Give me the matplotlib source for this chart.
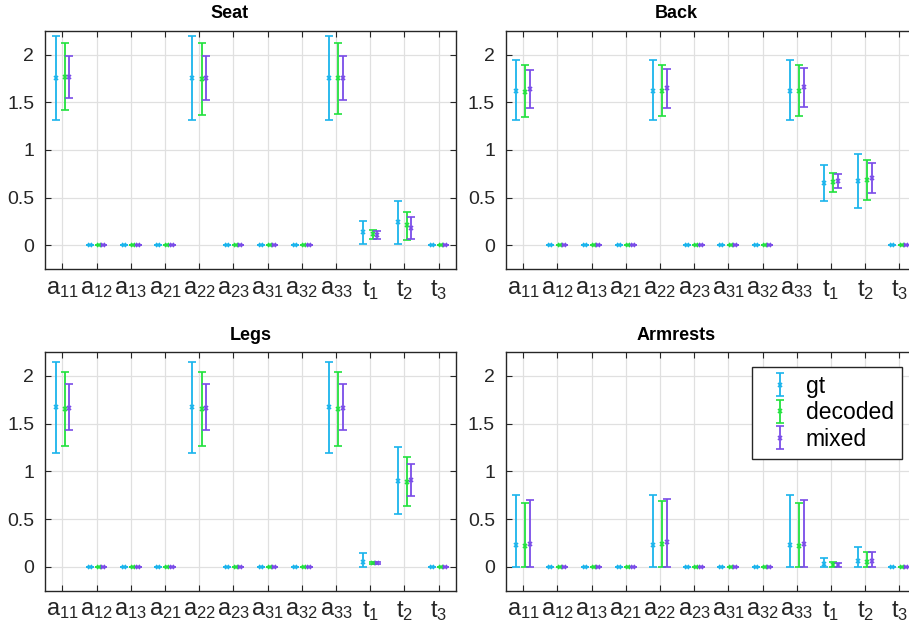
import matplotlib
matplotlib.use('Agg')
import matplotlib.pyplot as plt
import numpy as np

plt.rcParams['font.family'] = ['Liberation Sans', 'DejaVu Sans']
plt.rcParams['mathtext.fontset'] = 'custom'
plt.rcParams['mathtext.rm'] = 'Liberation Sans'
plt.rcParams['mathtext.it'] = 'Liberation Sans:italic'

# parameter names on the x axis
params = ['a_{11}', 'a_{12}', 'a_{13}', 'a_{21}', 'a_{22}', 'a_{23}',
          'a_{31}', 'a_{32}', 'a_{33}', 't_1', 't_2', 't_3']

# Seat
seat_gt = [1.75, 0, 0, 0, 1.75, 0, 0, 0, 1.75, 0.14, 0.25, 0]
seat_gt_lo = [1.31, 0, 0, 0, 1.31, 0, 0, 0, 1.31, 0.01, 0.02, 0]
seat_gt_hi = [2.19, 0, 0, 0, 2.19, 0, 0, 0, 2.19, 0.26, 0.47, 0]
seat_dec = [1.77, 0, 0, 0, 1.745, 0, 0, 0, 1.75, 0.12, 0.21, 0]
seat_dec_lo = [1.42, 0, 0, 0, 1.37, 0, 0, 0, 1.38, 0.07, 0.06, 0]
seat_dec_hi = [2.12, 0, 0, 0, 2.12, 0, 0, 0, 2.12, 0.16, 0.35, 0]
seat_mix = [1.77, 0, 0, 0, 1.75, 0, 0, 0, 1.75, 0.11, 0.185, 0]
seat_mix_lo = [1.55, 0, 0, 0, 1.52, 0, 0, 0, 1.52, 0.07, 0.065, 0]
seat_mix_hi = [1.99, 0, 0, 0, 1.98, 0, 0, 0, 1.98, 0.15, 0.30, 0]

# Back
back_gt = [1.62, 0, 0, 0, 1.62, 0, 0, 0, 1.62, 0.65, 0.68, 0]
back_gt_lo = [1.31, 0, 0, 0, 1.31, 0, 0, 0, 1.31, 0.47, 0.39, 0]
back_gt_hi = [1.94, 0, 0, 0, 1.94, 0, 0, 0, 1.94, 0.84, 0.96, 0]
back_dec = [1.61, 0, 0, 0, 1.62, 0, 0, 0, 1.62, 0.66, 0.69, 0]
back_dec_lo = [1.35, 0, 0, 0, 1.355, 0, 0, 0, 1.36, 0.56, 0.48, 0]
back_dec_hi = [1.89, 0, 0, 0, 1.89, 0, 0, 0, 1.89, 0.76, 0.89, 0]
back_mix = [1.64, 0, 0, 0, 1.65, 0, 0, 0, 1.66, 0.67, 0.705, 0]
back_mix_lo = [1.44, 0, 0, 0, 1.445, 0, 0, 0, 1.45, 0.60, 0.55, 0]
back_mix_hi = [1.84, 0, 0, 0, 1.85, 0, 0, 0, 1.86, 0.75, 0.86, 0]

# Legs
legs_gt = [1.67, 0, 0, 0, 1.67, 0, 0, 0, 1.67, 0.05, 0.90, 0]
legs_gt_lo = [1.19, 0, 0, 0, 1.19, 0, 0, 0, 1.19, 0, 0.55, 0]
legs_gt_hi = [2.15, 0, 0, 0, 2.15, 0, 0, 0, 2.15, 0.147, 1.25, 0]
legs_dec = [1.65, 0, 0, 0, 1.65, 0, 0, 0, 1.65, 0.035, 0.89, 0]
legs_dec_lo = [1.27, 0, 0, 0, 1.26, 0, 0, 0, 1.27, 0.025, 0.64, 0]
legs_dec_hi = [2.04, 0, 0, 0, 2.04, 0, 0, 0, 2.04, 0.045, 1.15, 0]
legs_mix = [1.665, 0, 0, 0, 1.665, 0, 0, 0, 1.665, 0.035, 0.91, 0]
legs_mix_lo = [1.43, 0, 0, 0, 1.43, 0, 0, 0, 1.43, 0.025, 0.74, 0]
legs_mix_hi = [1.91, 0, 0, 0, 1.91, 0, 0, 0, 1.91, 0.045, 1.075, 0]

# Armrests
arm_gt = [0.23, 0, 0, 0, 0.23, 0, 0, 0, 0.23, 0.03, 0.055, 0]
arm_gt_lo = [0, 0, 0, 0, 0, 0, 0, 0, 0, 0, 0, 0]
arm_gt_hi = [0.75, 0, 0, 0, 0.75, 0, 0, 0, 0.75, 0.095, 0.21, 0]
arm_dec = [0.22, 0, 0, 0, 0.24, 0, 0, 0, 0.22, 0.02, 0.05, 0]
arm_dec_lo = [0, 0, 0, 0, 0, 0, 0, 0, 0, 0, 0, 0]
arm_dec_hi = [0.665, 0, 0, 0, 0.69, 0, 0, 0, 0.665, 0.05, 0.15, 0]
arm_mix = [0.24, 0, 0, 0, 0.26, 0, 0, 0, 0.24, 0.02, 0.065, 0]
arm_mix_lo = [0, 0, 0, 0, 0, 0, 0, 0, 0, 0, 0, 0]
arm_mix_hi = [0.70, 0, 0, 0, 0.715, 0, 0, 0, 0.70, 0.04, 0.15, 0]

panels = [
    ('Seat', [(seat_gt, seat_gt_lo, seat_gt_hi),
              (seat_dec, seat_dec_lo, seat_dec_hi),
              (seat_mix, seat_mix_lo, seat_mix_hi)]),
    ('Back', [(back_gt, back_gt_lo, back_gt_hi),
              (back_dec, back_dec_lo, back_dec_hi),
              (back_mix, back_mix_lo, back_mix_hi)]),
    ('Legs', [(legs_gt, legs_gt_lo, legs_gt_hi),
              (legs_dec, legs_dec_lo, legs_dec_hi),
              (legs_mix, legs_mix_lo, legs_mix_hi)]),
    ('Armrests', [(arm_gt, arm_gt_lo, arm_gt_hi),
                  (arm_dec, arm_dec_lo, arm_dec_hi),
                  (arm_mix, arm_mix_lo, arm_mix_hi)]),
]

series_names = ['gt', 'decoded', 'mixed']
colors = ['#1ab4ec', '#22e23e', '#7a4ce8']
offsets = [-0.2, 0.07, 0.2]

W, H = 909, 633
fig = plt.figure(figsize=(W / 100, H / 100), dpi=100)

# axes boxes in pixels (left, top) - right column runs off the canvas like the original
boxes = [(45.3, 30.7), (506, 30.7), (45.3, 352), (506, 352)]
ax_w, ax_h = 410.4, 238.6
# horizontal title positions (axes fraction), the original titles are not centred
title_x = [0.449, 0.414, 0.5, 0.414]

x = np.arange(1, len(params) + 1)
axes = []
for (title, series), (left, top), tx in zip(panels, boxes, title_x):
    ax = fig.add_axes([left / W, 1 - (top + ax_h) / H, ax_w / W, ax_h / H])
    axes.append(ax)
    for (mean, lo, hi), name, c, off in zip(series, series_names, colors, offsets):
        mean = np.array(mean)
        yerr = [mean - np.array(lo), np.array(hi) - mean]
        ax.errorbar(x + off, mean, yerr=yerr, fmt='x', color=c, ecolor=c,
                    markersize=3, markeredgewidth=1.2, elinewidth=1.3,
                    capsize=3, capthick=1.3, label=name)
    ax.set_xlim(0.5, 12.5)
    ax.set_ylim(-0.25, 2.25)
    ax.set_xticks(x)
    ax.set_xticklabels([r'$\mathregular{' + p + '}$' for p in params], fontsize=17)
    ax.set_yticks([0, 0.5, 1, 1.5, 2])
    ax.set_yticklabels(['0', '0.5', '1', '1.5', '2'], fontsize=14)
    ax.tick_params(direction='in', top=True, right=True, length=4,
                   color='#262626', labelcolor='#262626', pad=6)
    ax.tick_params(axis='y', pad=8)
    ax.grid(True, color='#e0e0e0', linewidth=0.9)
    ax.set_axisbelow(True)
    for sp in ax.spines.values():
        sp.set_color('#262626')
        sp.set_linewidth(1.0)
    ax.set_title(title, fontsize=13, fontweight='bold', pad=9, x=tx)

# legend sits in the Armrests panel
axes[3].legend(loc='upper right', bbox_to_anchor=(901.7 / W, 1 - 366.7 / H),
               bbox_transform=fig.transFigure, fontsize=16.5, frameon=True,
               fancybox=False, edgecolor='#262626', framealpha=1,
               handlelength=1.8, handletextpad=0.2, labelspacing=0.15,
               borderpad=0.35, borderaxespad=0)

fig.savefig('out.png', dpi=100)
